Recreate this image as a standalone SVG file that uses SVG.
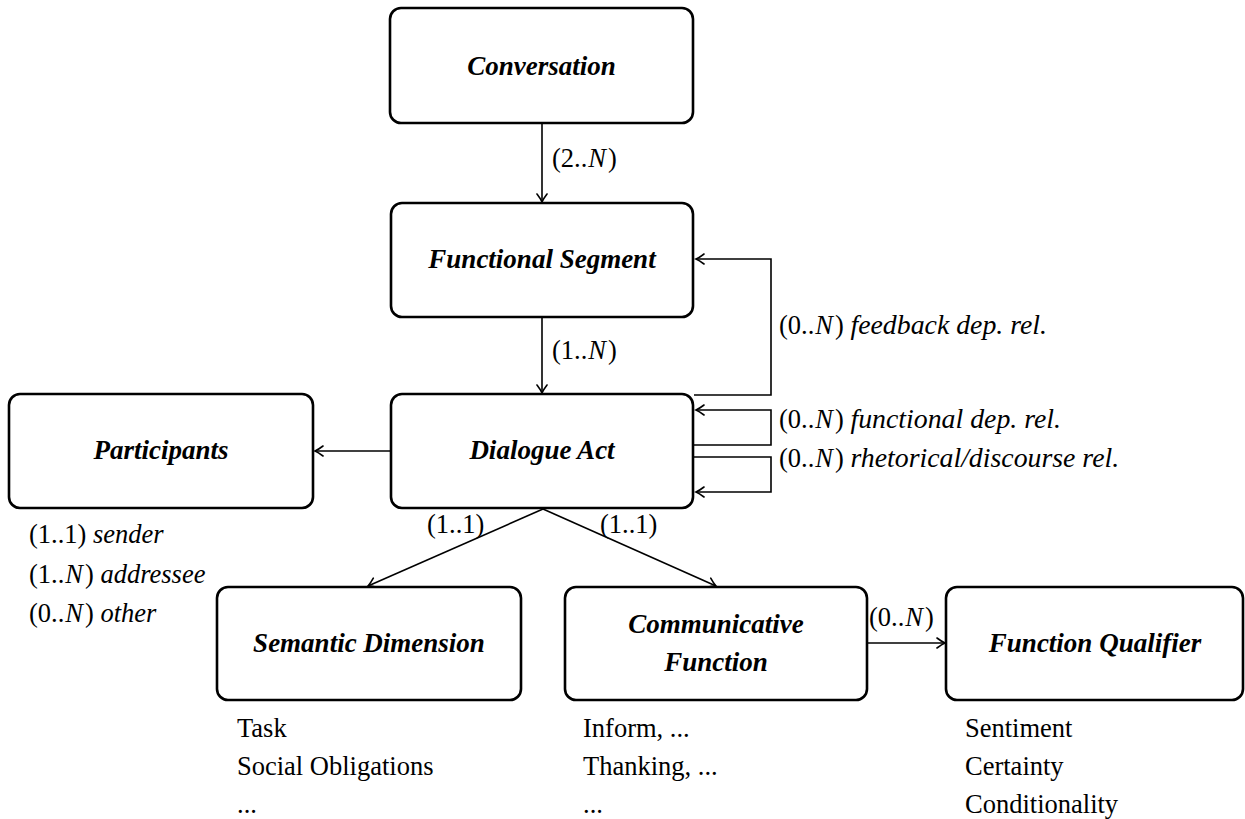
<svg xmlns="http://www.w3.org/2000/svg" width="1245" height="819" viewBox="0 0 1245 819">
  <style>
    .box { fill: #ffffff; stroke: #000000; stroke-width: 2.6; }
    .title { font-family: "Liberation Serif", "Times New Roman", serif; font-size: 27px; font-weight: bold; font-style: italic; text-anchor: middle; fill: #000000; }
    .txt { font-family: "Liberation Serif", "Times New Roman", serif; font-size: 26.5px; fill: #000000; }
    .it { font-style: italic; }
    .rel { font-style: italic; font-size: 27.8px; }
    .edge { fill: none; stroke: #000000; stroke-width: 1.6; }
  </style>
  <defs>
    <marker id="tip" viewBox="-10 -6 12 12" refX="0" refY="0" markerWidth="12" markerHeight="12" markerUnits="userSpaceOnUse" orient="auto">
      <path d="M -8 -5 Q -3 -1.2 0 0 Q -3 1.2 -8 5" fill="none" stroke="#000000" stroke-width="1.6" stroke-linecap="round"/>
    </marker>
  </defs>
  <rect width="1245" height="819" fill="#ffffff"/>

  <!-- connectors -->
  <g id="connectors">
    <line class="edge" x1="542" y1="123" x2="542" y2="202" marker-end="url(#tip)"/>
    <text class="txt" x="552" y="167">(2..<tspan class="it" dx="1">N</tspan><tspan dx="2">)</tspan></text>

    <line class="edge" x1="542" y1="317" x2="542" y2="393" marker-end="url(#tip)"/>
    <text class="txt" x="552" y="359">(1..<tspan class="it" dx="1">N</tspan><tspan dx="2">)</tspan></text>

    <!-- feedback dependency: Dialogue Act back to Functional Segment -->
    <polyline class="edge" points="694,395 771,395 771,259 696,259" marker-end="url(#tip)"/>
    <text class="txt" x="779" y="334">(0..<tspan class="it" dx="1">N</tspan><tspan dx="2">)</tspan> <tspan class="rel">feedback dep. rel.</tspan></text>

    <!-- self loops on Dialogue Act -->
    <polyline class="edge" points="694,445 771,445 771,410 696,410" marker-end="url(#tip)"/>
    <text class="txt" x="779" y="428">(0..<tspan class="it" dx="1">N</tspan><tspan dx="2">)</tspan> <tspan class="rel">functional dep. rel.</tspan></text>
    <polyline class="edge" points="694,457 771,457 771,492 696,492" marker-end="url(#tip)"/>
    <text class="txt" x="779" y="467">(0..<tspan class="it" dx="1">N</tspan><tspan dx="2">)</tspan> <tspan class="rel">rhetorical/discourse rel.</tspan></text>

    <line class="edge" x1="390" y1="451" x2="315" y2="451" marker-end="url(#tip)"/>

    <line class="edge" x1="543" y1="509" x2="368" y2="586" marker-end="url(#tip)"/>
    <text class="txt" x="427" y="533">(1..1)</text>
    <line class="edge" x1="543" y1="509" x2="716" y2="586" marker-end="url(#tip)"/>
    <text class="txt" x="600" y="533">(1..1)</text>

    <line class="edge" x1="867" y1="643" x2="945" y2="643" marker-end="url(#tip)"/>
    <text class="txt" x="869" y="626">(0..<tspan class="it" dx="1">N</tspan><tspan dx="2">)</tspan></text>
  </g>

  <g id="conversation">
    <rect class="box" x="390" y="8" width="303" height="115" rx="11"/>
    <text class="title" x="541.5" y="75">Conversation</text>
  </g>

  <g id="functional-segment">
    <rect class="box" x="391" y="203" width="302" height="114" rx="11"/>
    <text class="title" x="542" y="268">Functional Segment</text>
  </g>

  <g id="dialogue-act">
    <rect class="box" x="391" y="394" width="302" height="114" rx="11"/>
    <text class="title" x="542" y="459">Dialogue Act</text>
  </g>

  <g id="participants">
    <rect class="box" x="9" y="394" width="304" height="114" rx="11"/>
    <text class="title" x="161" y="459">Participants</text>
    <text class="txt" x="29" y="543">(1..1) <tspan class="it">sender</tspan></text>
    <text class="txt" x="29" y="583">(1..<tspan class="it" dx="1">N</tspan><tspan dx="2">)</tspan> <tspan class="it">addressee</tspan></text>
    <text class="txt" x="29" y="622">(0..<tspan class="it" dx="1">N</tspan><tspan dx="2">)</tspan> <tspan class="it">other</tspan></text>
  </g>

  <g id="semantic-dimension">
    <rect class="box" x="217" y="587" width="304" height="113" rx="11"/>
    <text class="title" x="369" y="652">Semantic Dimension</text>
    <text class="txt" x="237" y="737">Task</text>
    <text class="txt" x="237" y="775">Social Obligations</text>
    <text class="txt" x="237" y="813">...</text>
  </g>

  <g id="communicative-function">
    <rect class="box" x="565" y="587" width="302" height="113" rx="11"/>
    <text class="title" x="716" y="633">Communicative</text>
    <text class="title" x="716" y="671">Function</text>
    <text class="txt" x="583" y="737">Inform, ...</text>
    <text class="txt" x="583" y="775">Thanking, ...</text>
    <text class="txt" x="583" y="813">...</text>
  </g>

  <g id="function-qualifier">
    <rect class="box" x="946" y="587" width="297" height="113" rx="11"/>
    <text class="title" x="1095" y="652">Function Qualifier</text>
    <text class="txt" x="965" y="737">Sentiment</text>
    <text class="txt" x="965" y="775">Certainty</text>
    <text class="txt" x="965" y="813">Conditionality</text>
  </g>
</svg>
